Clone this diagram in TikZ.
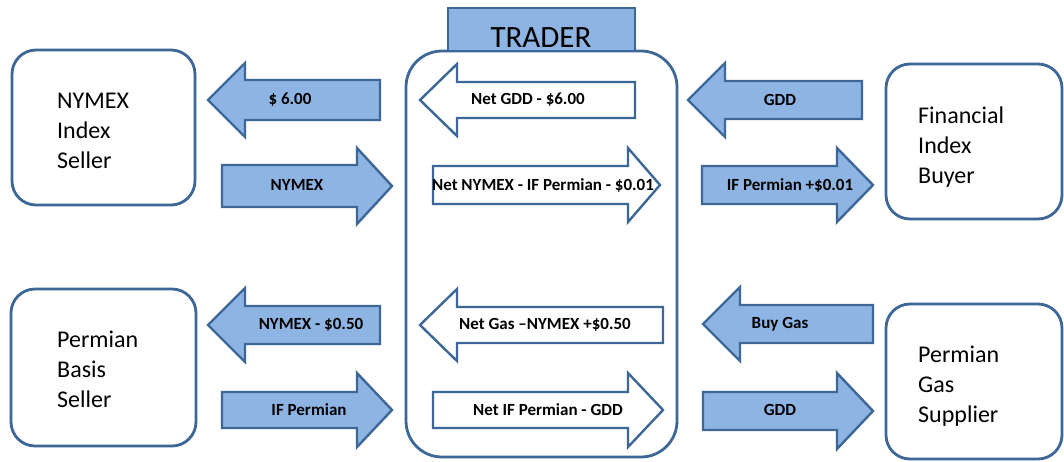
\documentclass[tikz,border=0pt]{standalone}
\usepackage{fontspec}
\setmainfont{Carlito}
\definecolor{afill}{HTML}{8EB4E3}
\definecolor{aline}{HTML}{3D6797}
\tikzset{
  party/.style={draw=aline, line width=2.8pt, rounded corners=24pt},
  bluearrow/.style={draw=aline, fill=afill, line width=2.4pt, line join=miter},
  whitearrow/.style={draw=aline, fill=white, line width=2.4pt, line join=miter},
  lbl/.style={font=\fontsize{17}{19}\selectfont\bfseries, inner sep=0pt},
  ptext/.style={font=\fontsize{24}{30}\selectfont, align=left, anchor=north west, inner sep=0pt},
}
% left arrow: tip, head base, end x, centre y, head half, shaft half, style
\newcommand{\leftfat}[7]{\draw[#7] (#1,#4) -- (#2,#4-#5) -- (#2,#4-#6) -- (#3,#4-#6) -- (#3,#4+#6) -- (#2,#4+#6) -- (#2,#4+#5) -- cycle;}
% right arrow: start x, head base, tip, centre y, head half, shaft half, style
\newcommand{\rightfat}[7]{\draw[#7] (#1,#4-#6) -- (#2,#4-#6) -- (#2,#4-#5) -- (#3,#4) -- (#2,#4+#5) -- (#2,#4+#6) -- (#1,#4+#6) -- cycle;}
\begin{document}
\begin{tikzpicture}[x=1pt,y=-1pt]
\useasboundingbox[fill=white] (0,0) rectangle (1064,461);
% party boxes
\draw[party] (12,50) rectangle (195,205);
\draw[party] (11,289) rectangle (196,446);
\draw[party] (886,64) rectangle (1062,219);
\draw[party] (886,304) rectangle (1062,459);
\node[ptext] (nis) at (57,93) {NYMEX\\Index\\Seller};
\node[ptext] (pbs) at (57,331) {Permian\\Basis\\Seller};
\node[ptext] (fib) at (918,107) {Financial\\Index\\Buyer};
\node[ptext] (pgs) at (918,346) {Permian\\Gas\\Supplier};
% trader
\draw[party, rounded corners=36pt] (406,51) rectangle (677,457);
\draw[draw=aline, fill=afill, line width=2.8pt] (448,8) rectangle (635,51);
\node[font=\fontsize{31}{34}\selectfont, inner sep=0pt] (trader) at (541,38) {TRADER};
% left-pointing arrows
\leftfat{208}{245}{380}{100}{37}{20}{bluearrow}
\leftfat{420}{457}{635}{100}{36}{18}{whitearrow}
\leftfat{688}{725}{862}{100}{37}{19}{bluearrow}
\leftfat{208}{245}{380}{325}{37}{19}{bluearrow}
\leftfat{420}{457}{663}{325}{36}{18}{whitearrow}
\leftfat{703}{740}{873}{324}{37}{19}{bluearrow}
% right-pointing arrows
\rightfat{222}{357}{392}{186}{38}{21}{bluearrow}
\rightfat{433}{628}{660}{185}{37}{19}{whitearrow}
\rightfat{702}{837}{873}{185}{37}{19}{bluearrow}
\rightfat{222}{357}{392}{410}{37}{18}{bluearrow}
\rightfat{433}{628}{663}{410}{37}{18}{whitearrow}
\rightfat{703}{837}{873}{411}{38}{19}{bluearrow}
% labels
\node[lbl] (l1) at (290,100) {\$ 6.00};
\node[lbl] (l2) at (528,100) {Net GDD - \$6.00};
\node[lbl] (l3) at (780,100) {GDD};
\node[lbl] (l4) at (297,185) {NYMEX};
\node[lbl] (l5) at (543,185) {Net NYMEX - IF Permian - \$0.01};
\node[lbl] (l6) at (790,185) {IF Permian +\$0.01};
\node[lbl] (l7) at (311,325) {NYMEX - \$0.50};
\node[lbl] (l8) at (545,325) {Net Gas –NYMEX +\$0.50};
\node[lbl] (l9) at (780,324) {Buy Gas};
\node[lbl] (l10) at (309,410) {IF Permian};
\node[lbl] (l11) at (548,410) {Net IF Permian - GDD};
\node[lbl] (l12) at (780,410) {GDD};
\end{tikzpicture}
\end{document}
